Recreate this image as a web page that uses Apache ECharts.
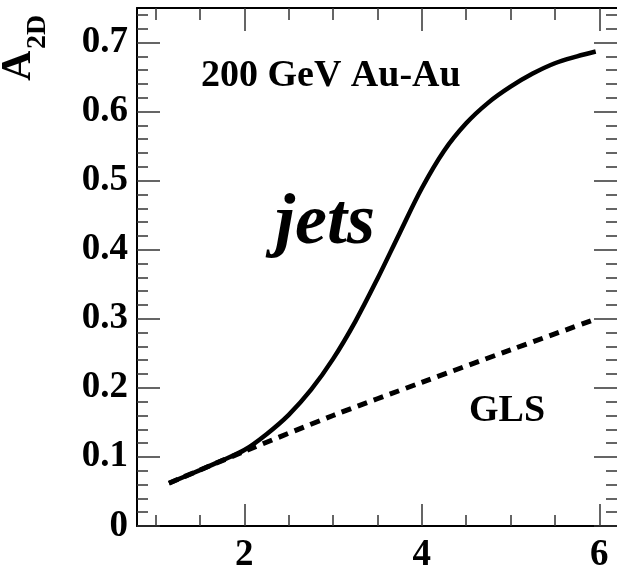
<!DOCTYPE html>
<html>
<head>
<meta charset="utf-8">
<script src="https://cdn.jsdelivr.net/npm/echarts@6/dist/echarts.min.js"></script>
<style>
  html, body { margin: 0; padding: 0; background: #fff; }
  #chart { width: 617px; height: 574px; }
</style>
</head>
<body>
<div id="chart"></div>
<script>
// A_2D versus x: jet-like curve and GLS reference line
const jetsX = [1.15, 1.5, 1.75, 2.0, 2.25, 2.5, 2.75, 3.0, 3.25, 3.5, 3.75, 4.0, 4.25, 4.5, 4.75, 5.0, 5.25, 5.5, 5.75, 5.96];
const jetsY = [0.062, 0.081, 0.095, 0.110, 0.133, 0.161, 0.197, 0.242, 0.296, 0.358, 0.424, 0.489, 0.543, 0.583, 0.613, 0.636, 0.655, 0.670, 0.680, 0.687];
const glsX = [1.15, 2.0, 3.0, 4.0, 5.0, 5.95];
const glsY = [0.062, 0.108, 0.160, 0.208, 0.255, 0.299];

const xMajorTicks = [2, 4, 6];
const xMinorTicks = [1, 1.5, 2.5, 3, 3.5, 4.5, 5, 5.5];
const yMajorTicks = [0, 0.1, 0.2, 0.3, 0.4, 0.5, 0.6, 0.7];
const yMinorTicks = [0.02, 0.04, 0.06, 0.08, 0.12, 0.14, 0.16, 0.18, 0.22, 0.24, 0.26, 0.28,
  0.32, 0.34, 0.36, 0.38, 0.42, 0.44, 0.46, 0.48, 0.52, 0.54, 0.56, 0.58,
  0.62, 0.64, 0.66, 0.68, 0.72, 0.74];

const X_MIN = 0.79, X_MAX = 6.2, Y_MIN = 0, Y_MAX = 0.75;
const SERIF = '"Liberation Serif", "Times New Roman", serif';
const tickStyle = { color: '#333', width: 1.5 };
const frameLine = { show: true, onZero: false, lineStyle: { color: '#000', width: 2 } };

function xAxisDef(position, ticks, len, labels) {
  return {
    type: 'value', gridIndex: 0, position: position, min: X_MIN, max: X_MAX,
    axisLine: labels ? frameLine : { show: position === 'top' && len > 20, onZero: false, lineStyle: { color: '#000', width: 2 } },
    axisTick: { show: true, inside: true, length: len, customValues: ticks, lineStyle: tickStyle },
    axisLabel: labels ? {
      show: true, customValues: ticks, margin: 11,
      fontFamily: SERIF, fontWeight: 'bold', fontSize: 37, color: '#000'
    } : { show: false },
    splitLine: { show: false }
  };
}
function yAxisDef(position, ticks, len, labels) {
  return {
    type: 'value', gridIndex: 0, position: position, min: Y_MIN, max: Y_MAX,
    axisLine: labels ? frameLine : { show: false, onZero: false },
    axisTick: { show: true, inside: true, length: len, customValues: ticks, lineStyle: tickStyle },
    axisLabel: labels ? {
      show: true, customValues: ticks, margin: 9,
      fontFamily: SERIF, fontWeight: 'bold', fontSize: 37, color: '#000'
    } : { show: false },
    splitLine: { show: false }
  };
}

const chart = echarts.init(document.getElementById('chart'), null, { renderer: 'canvas' });
chart.setOption({
  backgroundColor: '#fff',
  animation: false,
  grid: { left: 137, top: 8, width: 481, height: 519, containLabel: false },
  xAxis: [
    xAxisDef('bottom', xMajorTicks, 22, true),
    xAxisDef('bottom', xMinorTicks, 11, false),
    xAxisDef('top', xMajorTicks, 23, false),
    xAxisDef('top', xMinorTicks, 12, false)
  ],
  yAxis: [
    yAxisDef('left', yMajorTicks, 23, true),
    yAxisDef('left', yMinorTicks, 11, false),
    yAxisDef('right', yMajorTicks, 23, false),
    yAxisDef('right', yMinorTicks, 11, false)
  ],
  series: [
    {
      name: 'jets', type: 'line', xAxisIndex: 0, yAxisIndex: 0,
      data: jetsX.map((x, i) => [x, jetsY[i]]),
      smooth: 0.35, showSymbol: false,
      lineStyle: { color: '#000', width: 4.5, cap: 'butt' }
    },
    {
      name: 'GLS', type: 'line', xAxisIndex: 0, yAxisIndex: 0,
      data: glsX.map((x, i) => [x, glsY[i]]),
      smooth: 0.3, showSymbol: false,
      lineStyle: { color: '#000', width: 5, type: [10, 7], cap: 'butt' }
    }
  ],
  graphic: [
    { type: 'text', x: 19, y: 81, rotation: Math.PI / 2,
      style: { text: 'A', font: 'bold 42px ' + SERIF, fill: '#000', textAlign: 'left', textVerticalAlign: 'middle' } },
    { type: 'text', x: 38, y: 49, rotation: Math.PI / 2,
      style: { text: '2D', font: 'bold 28px ' + SERIF, fill: '#000', textAlign: 'left', textVerticalAlign: 'middle' } },
    { type: 'text', x: 201, y: 76,
      style: { text: '200 GeV Au-Au', font: 'bold 38px ' + SERIF, fill: '#000', textAlign: 'left', textVerticalAlign: 'middle' } },
    { type: 'text', x: 275, y: 224,
      style: { text: 'jets', font: 'italic bold 72px ' + SERIF, fill: '#000', textAlign: 'left', textVerticalAlign: 'middle' } },
    { type: 'text', x: 469, y: 411,
      style: { text: 'GLS', font: 'bold 38px ' + SERIF, fill: '#000', textAlign: 'left', textVerticalAlign: 'middle' } }
  ]
});
</script>
</body>
</html>
